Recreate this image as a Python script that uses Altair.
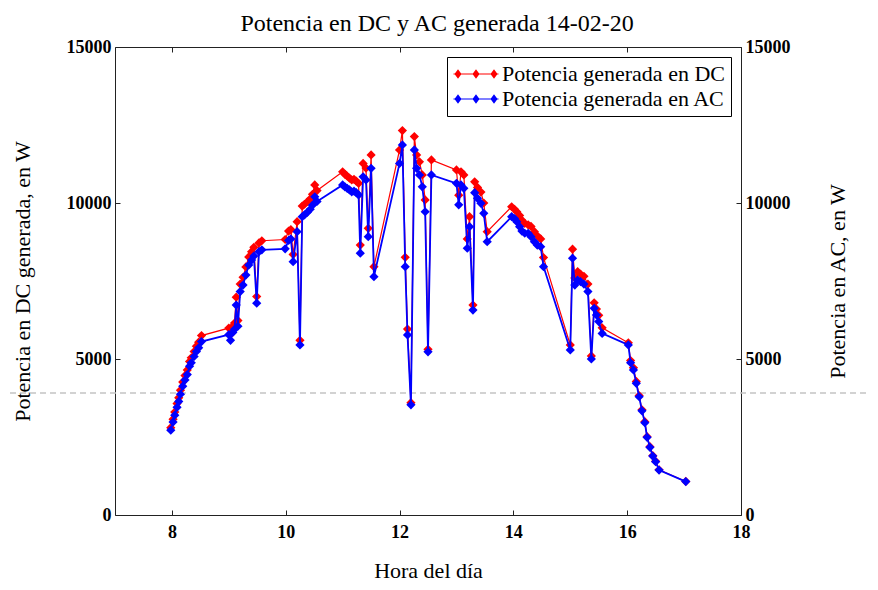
import altair as alt
import pandas as pd

# ---- data ----
hora = [7.98, 8.02, 8.05, 8.09, 8.12, 8.15, 8.19, 8.23, 8.27, 8.31, 8.34, 8.39, 8.43, 8.47, 8.52,
        9.00, 9.03, 9.07, 9.10, 9.13, 9.16, 9.20, 9.25, 9.30, 9.35, 9.40, 9.44, 9.49, 9.53, 9.58,
        9.99, 10.05, 10.09, 10.13, 10.20, 10.25, 10.29, 10.33, 10.38, 10.43, 10.47, 10.51, 10.55,
        11.00, 11.04, 11.08, 11.12, 11.16, 11.20, 11.24, 11.28, 11.31, 11.36, 11.41, 11.45, 11.50, 11.55,
        12.00, 12.05, 12.10, 12.14, 12.20, 12.26, 12.30, 12.35, 12.40, 12.45, 12.50, 12.56,
        13.00, 13.04, 13.08, 13.13, 13.19, 13.23, 13.29, 13.32, 13.37, 13.43, 13.48, 13.54,
        13.97, 14.02, 14.06, 14.11, 14.15, 14.20, 14.26, 14.31, 14.37, 14.42, 14.48, 14.53,
        15.00, 15.04, 15.08, 15.13, 15.18, 15.24, 15.31, 15.37, 15.42, 15.46, 15.50, 15.56,
        16.02, 16.06, 16.11, 16.16, 16.21, 16.26, 16.31, 16.35, 16.40, 16.45, 16.50, 16.56, 17.03]

potencia_ac = [2720, 2980, 3200, 3450, 3640, 3870, 4130, 4330, 4500, 4770, 4880, 5080, 5240, 5360, 5560,
               5780, 5600, 5850, 5950, 6730, 6050, 7160, 7370, 7690, 8010, 8170, 8300, 6790, 8440, 8500,
               8530, 8800, 8850, 8120, 9080, 5450, 9560, 9620, 9700, 9800, 9930, 10200, 10050,
               10580, 10520, 10470, 10420, 10360, 10380, 10330, 10260, 8390, 10840, 10740, 8920, 11110, 7640,
               11270, 11860, 7960, 5770, 3530, 11700, 11110, 10900, 10520, 9720, 5230, 10900,
               10630, 9940, 10580, 10470, 8550, 9240, 6570, 10330, 10150, 9990, 9670, 8760,
               9560, 9500, 9400, 9240, 9100, 9030, 9030, 8920, 8760, 8650, 8600, 7960,
               5290, 8230, 7370, 7530, 7480, 7400, 7160, 5000, 6625, 6410, 6200, 5820,
               5450, 4880, 4650, 4220, 3790, 3340, 2960, 2490, 2170, 1890, 1710, 1440, 1070]

potencia_dc = [2800, 3070, 3300, 3570, 3760, 4000, 4260, 4470, 4650, 4920, 5040, 5240, 5410, 5540, 5750,
               5990, 5790, 6050, 6150, 6980, 6230, 7400, 7620, 7950, 8270, 8440, 8580, 7000, 8720, 8790,
               8830, 9100, 9150, 8350, 9400, 5600, 9900, 9960, 10040, 10130, 10280, 10580, 10400,
               11000, 10920, 10860, 10800, 10740, 10760, 10700, 10630, 8650, 11270, 11120, 9190, 11540, 7960,
               11700, 12320, 8260, 5960, 3600, 12130, 11540, 11320, 10900, 10100, 5310, 11380,
               11060, 10250, 11000, 10900, 8850, 9560, 6730, 10680, 10500, 10350, 10000, 9080,
               9880, 9800, 9720, 9600, 9450, 9350, 9300, 9250, 9080, 8950, 8850, 8250,
               5450, 8520, 7600, 7800, 7720, 7650, 7400, 5100, 6800, 6600, 6400, 6000,
               5520, 4950, 4720, 4280, 3830, 3370, 2990, 2510, 2190, 1900, 1720, 1450, 1075]

serie_dc = "Potencia generada en DC"
serie_ac = "Potencia generada en AC"
x_ticks = [8, 10, 12, 14, 16, 18]
y_ticks = [0, 5000, 10000, 15000]
linea_guion = [3910]

df = pd.DataFrame({"hora": hora, "dc": potencia_dc, "ac": potencia_ac})
df_guion = pd.DataFrame({"v": linea_guion})

FONT = "Liberation Serif"
ROJO = "#ff0000"
AZUL = "#0000ff"

xs = alt.Scale(domain=[7, 18], nice=False, zero=False)
ys = alt.Scale(domain=[0, 15000], nice=False)

ax_bottom = alt.Axis(values=x_ticks, orient="bottom", title="Hora del día", offset=-5, tickSize=5,
                     domain=False, labelPadding=8, titlePadding=19, labelFlush=False, titleFontSize=22)
ax_top = alt.Axis(values=x_ticks, orient="top", title=None, offset=-5, tickSize=5, domain=False,
                  labels=False)
ax_left = alt.Axis(values=y_ticks, orient="left", title="Potencia en DC generada, en W", offset=-5,
                   tickSize=5, domain=False, labelPadding=4, titlePadding=32, labelFlush=False,
                   titleFontSize=22, format="d")
ax_right = alt.Axis(values=y_ticks, orient="right", title="Potencia en AC, en W", offset=-5,
                    tickSize=5, domain=False, labelPadding=4, titlePadding=59, labelFlush=False,
                    titleFontSize=22, titleAngle=270, format="d")

# legend symbol: thin bar plus three diamonds (fill only)
sym = ("M-4.5,-0.11L4.5,-0.11L4.5,0.11L-4.5,0.11Z"
       "M-4.3,0L-3.6,-0.95L-2.9,0L-3.6,0.95Z"
       "M-0.7,0L0,-0.95L0.7,0L0,0.95Z"
       "M2.9,0L3.6,-0.95L4.3,0L3.6,0.95Z")

color_scale = alt.Scale(domain=[serie_dc, serie_ac], range=[ROJO, AZUL])
leyenda = alt.Legend(title=None, orient="top-right", offset=10, fillColor="white", strokeColor="black",
                     padding=6, labelFont=FONT, labelFontSize=22, labelColor="black", labelLimit=400,
                     symbolType=sym, symbolSize=100, symbolOffset=12, labelOffset=15, rowPadding=3,
                     symbolStrokeWidth=0, symbolOpacity=1)

base = alt.Chart(df)

guion = alt.Chart(df_guion).mark_rule(color="#c4c4c4", strokeDash=[6, 4], strokeWidth=1.5).encode(
    y=alt.Y("v:Q", scale=ys, axis=ax_left),
    x=alt.value(-115), x2=alt.value(760))

dc_line = base.mark_line(color=ROJO, strokeWidth=1.2).encode(
    x=alt.X("hora:Q", scale=xs, axis=ax_bottom),
    y=alt.Y("dc:Q", scale=ys, axis=ax_left))
dc_pts = base.transform_calculate(serie=f"'{serie_dc}'").mark_point(
    shape="diamond", filled=True, size=85, opacity=1).encode(
    x=alt.X("hora:Q", scale=xs, axis=ax_bottom),
    y=alt.Y("dc:Q", scale=ys, axis=ax_left),
    color=alt.Color("serie:N", scale=color_scale, legend=leyenda))

ac_line = base.mark_line(color=AZUL, strokeWidth=1.8).encode(
    x=alt.X("hora:Q", scale=xs, axis=ax_top),
    y=alt.Y("ac:Q", scale=ys, axis=ax_right))
ac_pts = base.transform_calculate(serie=f"'{serie_ac}'").mark_point(
    shape="diamond", filled=True, size=85, opacity=1).encode(
    x=alt.X("hora:Q", scale=xs, axis=ax_top),
    y=alt.Y("ac:Q", scale=ys, axis=ax_right),
    color=alt.Color("serie:N", scale=color_scale, legend=leyenda))

grupo_dc = alt.layer(guion, dc_line, dc_pts)
grupo_ac = alt.layer(ac_line, ac_pts)

chart = alt.layer(grupo_dc, grupo_ac).resolve_scale(y="independent", x="independent").properties(
    width=626, height=468,
    autosize=alt.AutoSizeParams(type="none"),
    padding={"left": 107, "top": 39, "right": 129, "bottom": 67},
    title=alt.Title("Potencia en DC y AC generada 14-02-20", font=FONT, fontSize=24,
                    fontWeight="normal", color="black", offset=2, dx=9),
).configure_view(stroke="#222222", strokeWidth=1).configure_axis(
    grid=False, labelFont=FONT, labelFontSize=18, labelFontWeight="bold", labelColor="black",
    tickColor="#222222", titleFont=FONT, titleFontWeight="normal", titleColor="black",
)

chart.save("out.html", embed_options={"renderer": "svg", "actions": False})
